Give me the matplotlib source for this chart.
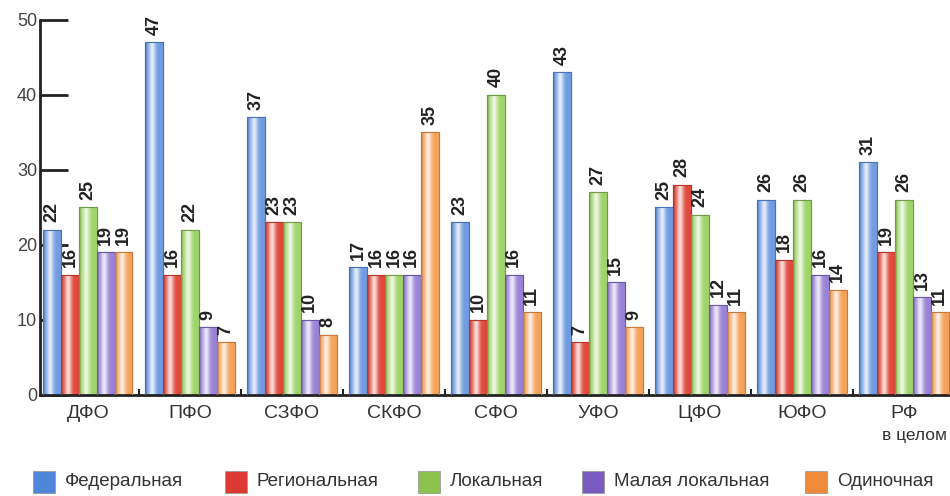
#!/usr/bin/env python3
# -*- coding: utf-8 -*-

import numpy as np
import matplotlib
matplotlib.use("Agg")
import matplotlib.pyplot as plt
from matplotlib.colors import to_rgb
from matplotlib.patches import Rectangle

regions = ["ДФО", "ПФО", "СЗФО", "СКФО", "СФО", "УФО", "ЦФО", "ЮФО", "РФ"]
series = ["Федеральная", "Региональная", "Локальная", "Малая локальная", "Одиночная"]
federal = [22, 47, 37, 17, 23, 43, 25, 26, 31]
regional = [16, 16, 23, 16, 10, 7, 28, 18, 19]
local = [25, 22, 23, 16, 40, 27, 24, 26, 26]
small_local = [19, 9, 10, 16, 16, 15, 12, 16, 13]
single = [19, 7, 8, 35, 11, 9, 11, 14, 11]

colors = ["#6f9be0", "#e04a3c", "#9fd46a", "#9a83d6", "#f3a25a"]
edges = ["#4a72b8", "#b8362a", "#6f9c45", "#6a58a8", "#c87838"]
legend_colors = ["#4f86d8", "#dc3a32", "#8cc24e", "#7a5cc0", "#ee8a3a"]

plt.rcParams["font.family"] = ["Liberation Sans", "DejaVu Sans"]


def gradient(color, n=40):
    base = np.array(to_rgb(color))
    t = np.linspace(0, 1, n)
    mix = 0.8 * np.exp(-((t - 0.4) / 0.2) ** 2)
    dark = 1 - 0.15 * (t < 0.08)
    rgb = base[None, :] * (1 - mix[:, None]) + mix[:, None]
    rgb = rgb * dark[:, None]
    return np.clip(rgb[None, :, :], 0, 1)


def grad_bar(ax, x, w, h, color, edge):
    rect = Rectangle((x - w / 2, 0), w, h, facecolor=color,
                     edgecolor=edge, linewidth=0.8, zorder=2)
    ax.add_patch(rect)
    im = ax.imshow(gradient(color), extent=(x - w / 2, x + w / 2, 0, h),
                   aspect="auto", zorder=2.5, interpolation="bilinear")
    im.set_clip_path(rect)
    ax.add_patch(Rectangle((x - w / 2, 0), w, h, facecolor="none",
                           edgecolor=edge, linewidth=0.8, zorder=3))


fig = plt.figure(figsize=(9.5, 4.96), dpi=100)
ax = fig.add_axes([0.042, 0.204, 0.958, 0.756])

data = [federal, regional, local, small_local, single]
x = np.arange(len(regions))
w = 0.175
for i, vals in enumerate(data):
    for j, v in enumerate(vals):
        xc = x[j] + (i - 2) * w
        grad_bar(ax, xc, w, v, colors[i], edges[i])
        ax.text(xc, v + 1.0, str(v), rotation=90, ha="center", va="bottom",
                fontsize=13, fontweight="bold", color="#222222", zorder=4)

ax.set_xlim(-0.47, 8.45)
ax.set_ylim(0, 50)

for s in ["top", "right"]:
    ax.spines[s].set_visible(False)
ax.spines["left"].set_linewidth(2)
ax.spines["bottom"].set_linewidth(2)
ax.spines["left"].set_color("#222222")
ax.spines["bottom"].set_color("#222222")

ax.set_yticks([0, 10, 20, 30, 40, 50])
ax.tick_params(axis="y", direction="in", length=20, width=2, color="#222222",
               labelsize=13, labelcolor="#444444", pad=2)
ax.set_xticks(x[:-1] + 0.5, minor=True)
ax.set_xticks(x)
ax.set_xticklabels(regions)
ax.tick_params(axis="x", which="major", length=0, labelsize=14,
               labelcolor="#333333", pad=7)
ax.tick_params(axis="x", which="minor", direction="in", length=4, width=1.5,
               color="#222222")
ax.text(x[-1] + 0.1, -4.4, "в целом", ha="center", va="top", fontsize=12.5,
        color="#333333")

# legend drawn by hand, pixel positions of the squares
leg_x = [33, 225, 418, 582, 805]
for lx, name, c in zip(leg_x, series, legend_colors):
    fig.patches.append(Rectangle((lx / 950, 3 / 496), 22 / 950, 22 / 496,
                                 transform=fig.transFigure, facecolor=c,
                                 edgecolor="#999999", linewidth=0.6))
    fig.text((lx + 32) / 950, 14 / 496, name, ha="left", va="center",
             fontsize=13.5, color="#333333")

fig.savefig("out.png", dpi=100)
